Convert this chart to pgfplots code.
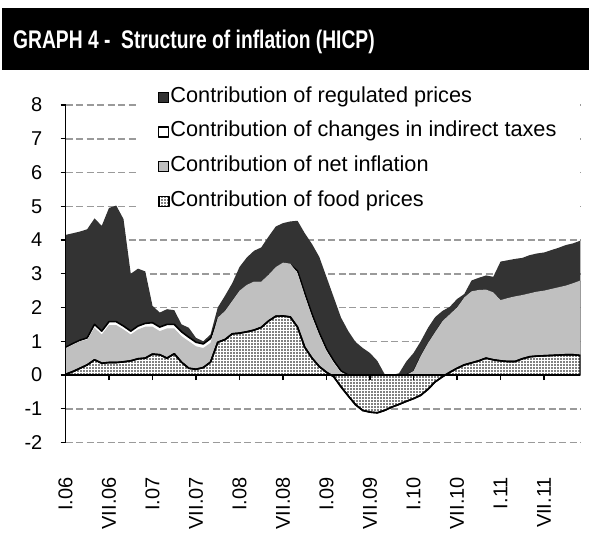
\documentclass[border=0pt]{standalone}
\usepackage{pgfplots}
\pgfplotsset{compat=1.18}
\usepackage{pgfplotstable}
\usetikzlibrary{patterns.meta}
\usepackage{fontspec}
\setmainfont{Liberation Sans}
\newfontfamily\titlefont[FakeStretch=0.755]{Liberation Sans}
\definecolor{darkc}{HTML}{333333}
\definecolor{grayc}{HTML}{C0C0C0}
\definecolor{gridc}{HTML}{9A9A9A}
\newcommand\lab{\fontsize{20}{24}\selectfont}
\newcommand\leg{\fontsize{21.7}{25}\selectfont}

\pgfplotsset{
  layers/mylayers/.define layer set={
    axis background,axis grid,main,axis ticks,axis lines,axis tick labels,axis descriptions,axis foreground
  }{
    grid style={/pgfplots/on layer=axis grid},
    tick style={/pgfplots/on layer=axis ticks},
    axis line style={/pgfplots/on layer=axis lines},
    label style={/pgfplots/on layer=axis descriptions},
    legend style={/pgfplots/on layer=axis descriptions},
    title style={/pgfplots/on layer=axis descriptions},
    colorbar style={/pgfplots/on layer=axis descriptions},
    ticklabel style={/pgfplots/on layer=axis tick labels},
    axis background@ style={/pgfplots/on layer=axis background},
    3d box foreground style={/pgfplots/on layer=axis foreground},
  },
}

% m = month index (0 = I.06); T = total (regulated on top), X = up to indirect taxes,
% G = up to net inflation, F = food prices
\pgfplotstableread{
m T X G F
0 0 0 0 0
0 4.15 0.82 0.79 0.02
1 4.20 0.93 0.90 0.10
2 4.25 1.03 1.00 0.20
3 4.32 1.10 1.05 0.30
4 4.64 1.50 1.40 0.45
5 4.42 1.30 1.20 0.35
6 4.95 1.58 1.48 0.37
7 5.02 1.58 1.48 0.37
8 4.62 1.45 1.35 0.39
9 3.00 1.30 1.20 0.42
10 3.15 1.45 1.35 0.48
11 3.07 1.53 1.43 0.50
12 2.05 1.55 1.43 0.62
13 1.85 1.42 1.30 0.60
14 1.95 1.50 1.38 0.50
15 1.92 1.50 1.38 0.63
16 1.50 1.28 1.15 0.38
17 1.40 1.12 1.00 0.20
18 1.10 0.97 0.85 0.17
19 1.00 0.92 0.80 0.22
20 1.20 1.08 0.95 0.38
21 2.00 1.67 1.70 0.97
22 2.35 1.87 1.90 1.05
23 2.72 2.17 2.20 1.22
24 3.20 2.47 2.50 1.24
25 3.48 2.64 2.67 1.28
26 3.68 2.74 2.77 1.33
27 3.78 2.74 2.77 1.41
28 4.10 2.94 2.97 1.60
29 4.40 3.17 3.20 1.74
30 4.50 3.30 3.33 1.75
31 4.55 3.27 3.30 1.72
32 4.57 3.08 3.02 1.42
33 4.20 2.42 2.35 0.82
34 3.88 1.80 1.72 0.50
35 3.50 1.25 1.18 0.25
36 2.90 0.77 0.70 0.08
37 2.30 0.42 0.35 -0.05
38 1.70 0.12 0.07 -0.35
39 1.30 0 0 -0.62
40 0.98 0 0 -0.88
41 0.80 0 0 -1.05
42 0.65 0 0 -1.10
43 0.42 0 0 -1.12
44 0.03 0 0 -1.05
45 0.00 0 0 -0.95
46 0.05 0 0 -0.87
47 0.40 0 0 -0.78
48 0.65 0.10 0.12 -0.70
49 1.00 0.54 0.57 -0.60
50 1.40 0.92 0.95 -0.42
51 1.72 1.25 1.28 -0.20
52 1.90 1.57 1.60 -0.05
53 2.02 1.77 1.80 0.08
54 2.25 1.97 2.00 0.20
55 2.40 2.27 2.30 0.30
56 2.80 2.45 2.48 0.36
57 2.88 2.49 2.52 0.42
58 2.95 2.50 2.53 0.50
59 2.91 2.42 2.45 0.45
60 3.36 2.19 2.22 0.42
61 3.40 2.25 2.28 0.40
62 3.44 2.30 2.33 0.40
63 3.47 2.34 2.37 0.48
64 3.55 2.39 2.42 0.54
65 3.60 2.44 2.47 0.56
66 3.63 2.47 2.50 0.57
67 3.70 2.52 2.55 0.58
68 3.77 2.57 2.60 0.59
69 3.85 2.62 2.65 0.60
70 3.90 2.69 2.72 0.60
71 3.98 2.77 2.80 0.58
71 0 0 0 0
}\data

\begin{document}
\begin{tikzpicture}[x=1pt,y=1pt]
\fill[black] (2,466) rectangle (589,528);
\node[anchor=base west, text=white, inner sep=0pt, font=\titlefont\bfseries\fontsize{25.5}{28}\selectfont] at (13,487.7) {GRAPH 4 -\ \ Structure of inflation (HICP)};
\begin{axis}[
  set layers=mylayers,
  at={(65.5pt,93.5pt)}, anchor=south west,
  scale only axis, width=514.8pt, height=337.5pt,
  xmin=0, xmax=71, ymin=-2, ymax=8,
  axis y line*=left, axis x line*=middle,
  hide obscured x ticks=false, hide obscured y ticks=false,
  axis line style={line width=1.6pt, black},
  tick style={line width=1.3pt, black},
  tick align=outside, major tick length=5pt,
  ytick={-2,-1,0,1,2,3,4,5,6,7,8},
  yticklabels={-2,-1,0,1,2,3,4,5,6,7,8},
  yticklabel style={font=\lab, anchor=east, inner sep=0pt, xshift=-18pt},
  ymajorgrids,
  grid style={line width=1.5pt, gridc, dash pattern=on 7pt off 3.5pt},
  xtick={0,6,...,66},
  xticklabels={I.06,VII.06,I.07,VII.07,I.08,VII.08,I.09,VII.09,I.10,VII.10,I.11,VII.11},
  xticklabel style={font=\lab, yshift=-97pt, rotate=90, anchor=east, inner sep=0pt},
  legend style={at={(0.1404,1.062)}, anchor=north west, draw=none, fill=white,
    font=\leg, inner xsep=20pt, inner ysep=2pt, row sep=12.7pt,
    nodes={inner sep=1pt, text height=15pt, text depth=5pt}},
  legend cell align=left,
  legend image code/.code={\draw[#1, line width=1.5pt] (-4pt,-5pt) rectangle (6pt,5pt);},
]
\addplot[fill=darkc, draw=none] table[x=m, y=T]{\data};
\addlegendentry{Contribution of regulated prices}
\addplot[fill=white, draw=black, line width=1.6pt, line join=round] table[x=m, y=X]{\data};
\addlegendentry{Contribution of changes in indirect taxes}
\addplot[fill=grayc, draw=none] table[x=m, y=G]{\data};
\addlegendentry{Contribution of net inflation}
\addplot[preaction={fill=white}, pattern={Dots[distance=3pt, radius=0.85pt]}, pattern color=black, draw=black, line width=1.6pt, line join=round] table[x=m, y=F]{\data};
\addlegendentry{Contribution of food prices}
\end{axis}
\pgfresetboundingbox
\useasboundingbox (0,0) rectangle (589,536);
\end{tikzpicture}
\end{document}
